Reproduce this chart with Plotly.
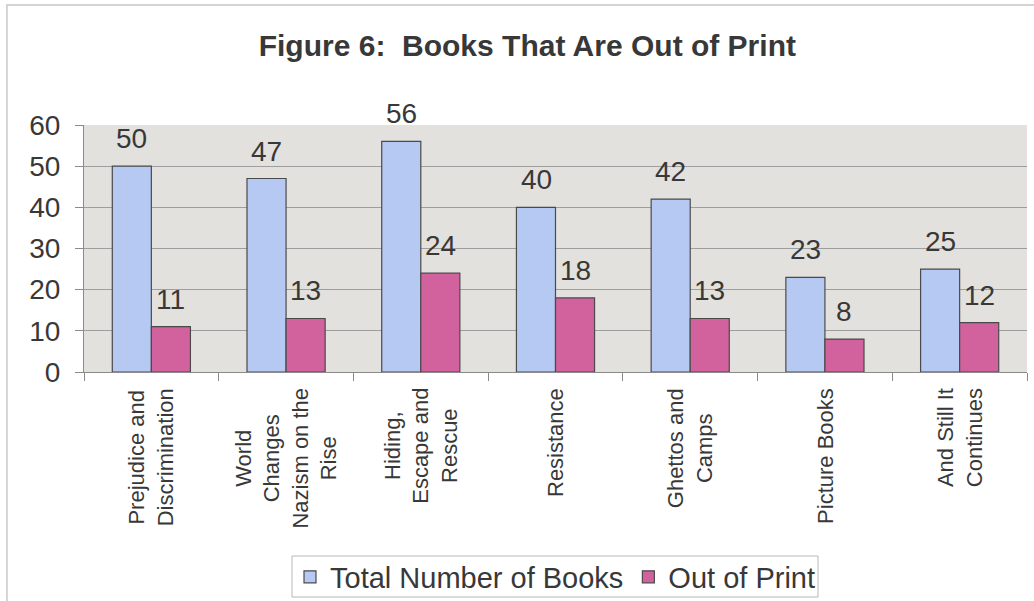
import plotly.graph_objects as go

categories = [
    "Prejudice and<br>Discrimination",
    "World<br>Changes<br>Nazism on the<br>Rise",
    "Hiding,<br>Escape and<br>Rescue",
    "Resistance",
    "Ghettos and<br>Camps",
    "Picture Books",
    "And Still It<br>Continues",
]
total_books = [50, 47, 56, 40, 42, 23, 25]
out_of_print = [11, 13, 24, 18, 13, 8, 12]
series_names = ["Total Number of Books", "Out of Print"]
y_ticks = [0, 10, 20, 30, 40, 50, 60]

FONT = "Liberation Sans, Arial, sans-serif"
TEXT = "#383838"
BLUE = "#b5c9f3"
PINK = "#d2629d"
EDGE = "#4a4a4a"

fig = go.Figure()
fig.add_trace(go.Bar(x=categories, y=total_books, name=series_names[0],
                     marker=dict(color=BLUE, line=dict(color=EDGE, width=1.2))))
fig.add_trace(go.Bar(x=categories, y=out_of_print, name=series_names[1],
                     marker=dict(color=PINK, line=dict(color=EDGE, width=1.2))))

# value labels above each bar
half = 19.5
for cat, v in zip(categories, total_books):
    fig.add_annotation(x=cat, y=v, text=str(v), showarrow=False, xshift=-half,
                       yanchor="bottom", yshift=10, font=dict(size=28, color=TEXT, family=FONT))
for cat, v in zip(categories, out_of_print):
    fig.add_annotation(x=cat, y=v, text=str(v), showarrow=False, xshift=half,
                       yanchor="bottom", yshift=10, font=dict(size=28, color=TEXT, family=FONT))

# category labels, rotated, with centred lines
for cat in categories:
    fig.add_annotation(x=cat, y=0, yref="paper", text=cat, showarrow=False,
                       textangle=-90, align="center", xanchor="center", yanchor="top",
                       yshift=-14, font=dict(size=22, color=TEXT, family=FONT))

# outer chart frame
fig.add_shape(type="rect", xref="paper", yref="paper",
              x0=-0.0817, x1=1.02, y0=-1.0, y1=1.486,
              line=dict(color="#c8c8c8", width=1.5), layer="below")
# legend box
fig.add_shape(type="rect", xref="paper", yref="paper",
              x0=0.2206, x1=0.7784, y0=-0.911, y1=-0.745,
              line=dict(color="#b8b8b8", width=1), layer="below")

fig.update_layout(
    width=1034, height=601,
    margin=dict(l=84, r=7, t=125, b=229, autoexpand=False),
    paper_bgcolor="white",
    plot_bgcolor="#e3e1de",
    barmode="group",
    bargap=0.42,
    bargroupgap=0,
    font=dict(family=FONT, color=TEXT),
    title=dict(text="Figure 6:\u00a0 Books That Are Out of Print",
               x=0.51, xref="container", xanchor="center",
               y=0.925, yref="container", yanchor="middle",
               font=dict(size=30, color=TEXT, family=FONT, weight="bold")),
    legend=dict(orientation="h", x=0.5, xanchor="center",
                y=0.04, yref="container", yanchor="middle",
                font=dict(size=29, color=TEXT, family=FONT),
                borderwidth=0, bgcolor="rgba(0,0,0,0)",
                tracegroupgap=0),
    showlegend=True,
)
fig.update_xaxes(
    showticklabels=False, automargin=False,
    ticks="outside", tickson="boundaries", ticklen=8, tickcolor="#8a8a8a",
    showline=True, linecolor="#8a8a8a", linewidth=1,
    showgrid=False,
)
fig.update_yaxes(
    range=[0, 60], tickvals=y_ticks, tickfont=dict(size=28, color=TEXT, family=FONT),
    automargin=False,
    ticks="outside", ticklen=8, tickcolor="#8a8a8a",
    showline=True, linecolor="#8a8a8a", linewidth=1,
    showgrid=True, gridcolor="#9e9e9e", gridwidth=1,
    zeroline=False, ticklabelstandoff=9,
)

fig.write_html("out.html")
